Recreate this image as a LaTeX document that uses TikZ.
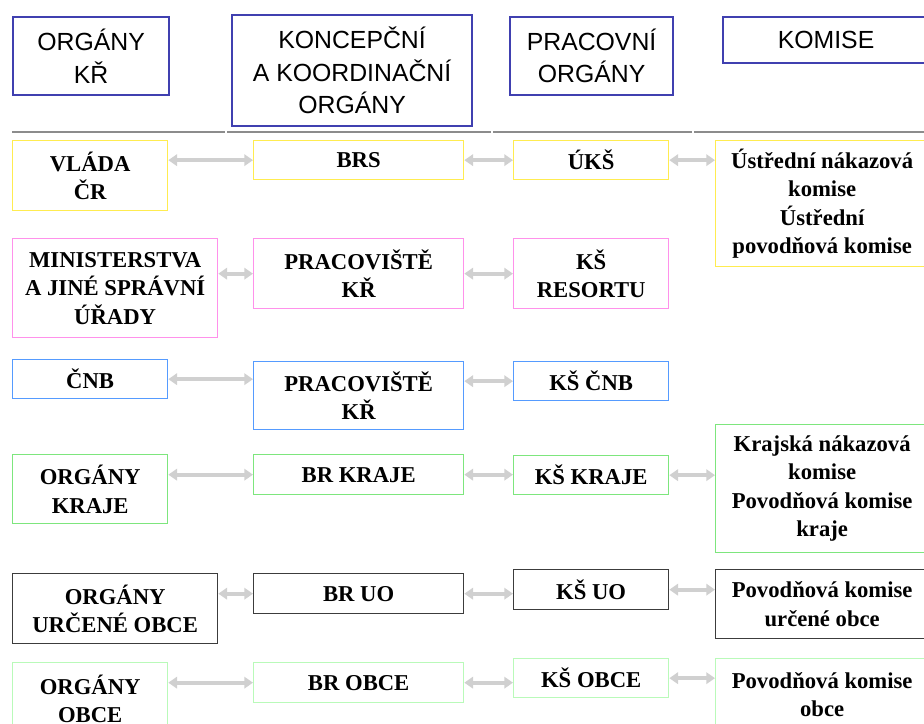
\documentclass[tikz,border=0pt]{standalone}
\usepackage{fontspec}
\setmainfont{Liberation Serif}
\newfontfamily\headfont{Liberation Sans}
\usetikzlibrary{arrows.meta}

\definecolor{headblue}{RGB}{64,64,176}
\definecolor{ruleg}{RGB}{140,140,140}
\definecolor{arrowg}{RGB}{208,208,208}
\definecolor{cyellow}{RGB}{255,236,80}
\definecolor{cpink}{RGB}{255,145,235}
\definecolor{cblue}{RGB}{85,155,255}
\definecolor{cgreen}{RGB}{125,230,125}
\definecolor{cdark}{RGB}{60,60,60}
\definecolor{clight}{RGB}{185,250,185}

\tikzset{
  sz/.style 2 args={minimum width=#1*0.75pt, minimum height=#2*0.75pt},
  box/.style={draw, anchor=north west, inner sep=0pt, align=center,
    line width=1pt, font=\bfseries\fontsize{17}{21.4}\selectfont},
  headbox/.style={draw=headblue, anchor=north west, inner sep=0pt, align=center,
    line width=1.6pt, font=\headfont\fontsize{18.6}{24.3}\selectfont},
  link/.style={draw=arrowg, line width=3pt,
    {Triangle[length=6.5pt,width=8.5pt]}-{Triangle[length=6.5pt,width=8.5pt]}},
  rulestyle/.style={draw=ruleg, line width=1.6pt}
}

\begin{document}
\begin{tikzpicture}[x=0.75pt,y=-0.75pt]
\useasboundingbox (0,0) rectangle (924,724);
\clip (0,0) rectangle (924,724);
\fill[white] (0,0) rectangle (924,724);

% column headings
\node[headbox, sz={156}{78}]  (h1) at (12,16)  {ORGÁNY\\KŘ};
\node[headbox, sz={240}{111}] (h2) at (231,14) {KONCEPČNÍ\\A KOORDINAČNÍ\\ORGÁNY};
\node[headbox, sz={163}{78}]  (h3) at (509,16) {PRACOVNÍ\\ORGÁNY};
\node[headbox, sz={206}{46}]  (h4) at (722,16) {KOMISE};

% rule under the headings
\draw[rulestyle] (12,132) -- (225,132);
\draw[rulestyle] (227,132) -- (491,132);
\draw[rulestyle] (493,132) -- (692,132);
\draw[rulestyle] (694,132) -- (924,132);

% government level
\node[box, draw=cyellow, sz={155}{70}]  (vlada) at (12,140)  {VLÁDA\\ČR};
\node[box, draw=cyellow, sz={210}{39}]  (brs)   at (253,140) {BRS};
\node[box, draw=cyellow, sz={155}{39}]  (uks)   at (513,140) {ÚKŠ};
\node[box, draw=cyellow, sz={213}{126}] (ukom)  at (715,140) {Ústřední nákazová\\komise\\Ústřední\\povodňová komise};

% ministries
\node[box, draw=cpink, sz={205}{99}] (minis)  at (12,238)  {MINISTERSTVA\\A JINÉ SPRÁVNÍ\\ÚŘADY};
\node[box, draw=cpink, sz={210}{70}] (prac1)  at (253,238) {PRACOVIŠTĚ\\KŘ};
\node[box, draw=cpink, sz={155}{70}] (ksres)  at (513,238) {KŠ\\RESORTU};

% national bank
\node[box, draw=cblue, sz={155}{39}] (cnb)    at (12,359)  {ČNB};
\node[box, draw=cblue, sz={210}{68}] (prac2)  at (253,361) {PRACOVIŠTĚ\\KŘ};
\node[box, draw=cblue, sz={155}{39}] (kscnb)  at (513,361) {KŠ ČNB};

% regions
\node[box, draw=cgreen, sz={155}{69}]  (okraje)  at (12,454)  {ORGÁNY\\KRAJE};
\node[box, draw=cgreen, sz={210}{40}]  (brkraje) at (253,454) {BR KRAJE};
\node[box, draw=cgreen, sz={155}{39}]  (kskraje) at (513,455) {KŠ KRAJE};
\node[box, draw=cgreen, sz={213}{128}] (kkom)    at (715,424) {Krajská nákazová\\komise\\Povodňová komise\\kraje};

% designated municipalities
\node[box, draw=cdark, sz={205}{70}] (ouo)  at (12,573)  {ORGÁNY\\URČENÉ OBCE};
\node[box, draw=cdark, sz={210}{40}] (bruo) at (253,573) {BR UO};
\node[box, draw=cdark, sz={155}{40}] (ksuo) at (513,569) {KŠ UO};
\node[box, draw=cdark, sz={213}{69}] (pkuo) at (715,569) {Povodňová komise\\určené obce};

% municipalities
\node[box, draw=clight, sz={155}{72}] (oobce)  at (12,662)  {ORGÁNY\\OBCE};
\node[box, draw=clight, sz={210}{40}] (brobce) at (253,662) {BR OBCE};
\node[box, draw=clight, sz={155}{39}] (ksobce) at (513,658) {KŠ OBCE};
\node[box, draw=clight, sz={213}{72}] (pkobce) at (715,658) {Povodňová komise\\obce};

% links between neighbouring bodies
\draw[link] (vlada.east |- brs.west) -- (brs.west);
\draw[link] (brs.east) -- (uks.west);
\draw[link] (uks.east) -- (ukom.west |- uks.east);

\draw[link] (minis.east |- prac1.west) -- (prac1.west);
\draw[link] (prac1.east) -- (ksres.west);

\draw[link] (cnb.east) -- (prac2.west |- cnb.east);
\draw[link] (prac2.east |- kscnb.west) -- (kscnb.west);

\draw[link] (okraje.east |- brkraje.west) -- (brkraje.west);
\draw[link] (brkraje.east) -- (kskraje.west |- brkraje.east);
\draw[link] (kskraje.east) -- (kkom.west |- kskraje.east);

\draw[link] (ouo.east |- bruo.west) -- (bruo.west);
\draw[link] (bruo.east) -- (ksuo.west |- bruo.east);
\draw[link] (ksuo.east) -- (pkuo.west |- ksuo.east);

\draw[link] (oobce.east |- brobce.west) -- (brobce.west);
\draw[link] (brobce.east) -- (ksobce.west |- brobce.east);
\draw[link] (ksobce.east) -- (pkobce.west |- ksobce.east);
\end{tikzpicture}
\end{document}
